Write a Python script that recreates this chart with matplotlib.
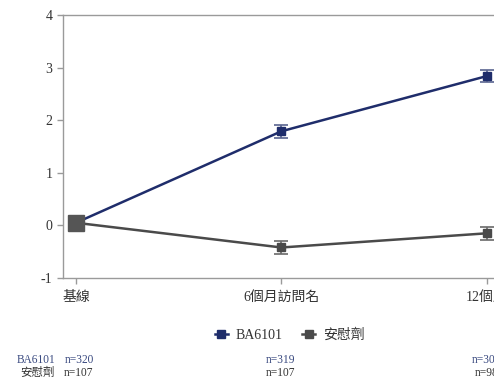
import matplotlib
matplotlib.use("Agg")
import matplotlib.pyplot as plt

plt.rcParams['font.family'] = ['Liberation Serif', 'Noto Sans CJK TC', 'DejaVu Sans']

categories = ["基線", "6個月訪問名", "12個月"]
ba_mean = [0.05, 1.79, 2.84]
ba_err = [0.0, 0.12, 0.12]
pl_mean = [0.05, -0.42, -0.15]
pl_err = [0.0, 0.12, 0.12]
ba_n = ["n=320", "n=319", "n=309"]
pl_n = ["n=107", "n=107", "n=98"]
yticks = [-1, 0, 1, 2, 3, 4]

navy = "#1f2d6b"
gray = "#4a4a4a"
spine = "#9a9a9a"

W, H = 494, 378
fig = plt.figure(figsize=(W/100, H/100), dpi=100)
ax = fig.add_axes([63/W, 1-278/H, 1-63/W, (278-15)/H])

x = list(range(len(categories)))
ax.errorbar(x[1:], ba_mean[1:], yerr=ba_err[1:], color=navy, ecolor="#5a6590",
            elinewidth=1.2, capsize=5, capthick=1.2, fmt='none', zorder=3)
ax.errorbar(x[1:], pl_mean[1:], yerr=pl_err[1:], color=gray, ecolor="#6a6a6a",
            elinewidth=1.2, capsize=5, capthick=1.2, fmt='none', zorder=3)
ax.plot(x, ba_mean, color=navy, lw=1.8, marker='s', ms=5.5, zorder=4, label="BA6101")
ax.plot(x, pl_mean, color=gray, lw=1.8, marker='s', ms=5.5, zorder=4, label="安慰劑")
ax.plot([x[0]], [pl_mean[0]], marker='s', ms=11, color="#555555", zorder=5, ls='none')

ax.set_xlim(-0.063, 2.034)
ax.set_ylim(-1, 4)
ax.set_yticks(yticks)
ax.set_yticklabels([str(v) for v in yticks])
ax.set_xticks(x)
ax.set_xticklabels(categories)
for s in ['left', 'bottom', 'top']:
    ax.spines[s].set_color(spine)
    ax.spines[s].set_linewidth(1.0)
ax.spines['right'].set_visible(False)
ax.tick_params(axis='both', colors=spine, labelcolor="#333333", labelsize=10, length=4, width=1)
ax.tick_params(axis='x', pad=5)

leg = fig.legend(loc='center', bbox_to_anchor=(290/W, 1-335/H), ncol=2, frameon=False,
                 fontsize=10, handlelength=0.9, columnspacing=1.4, handletextpad=0.6,
                 labelcolor="#333333")

# n table
fs = 8.3
fig.text(55/W, 1-360/H, "BA6101", ha='right', va='center', fontsize=fs, color="#3a4a80")
fig.text(55/W, 1-373/H, "安慰劑", ha='right', va='center', fontsize=fs, color="#333333")
xpix = [79, 281, 487]
for i, xp in enumerate(xpix):
    fig.text(xp/W, 1-360/H, ba_n[i], ha='center', va='center', fontsize=fs, color="#3a4a80")
    fig.text(xp/W, 1-373/H, pl_n[i], ha='center', va='center', fontsize=fs, color="#333333")

fig.savefig("out.png", dpi=100)
